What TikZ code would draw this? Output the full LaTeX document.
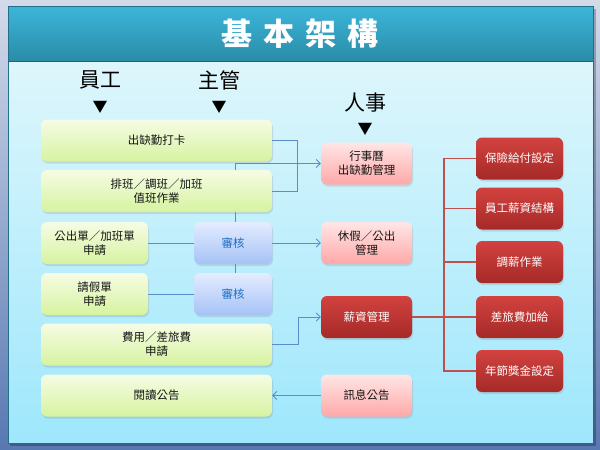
\documentclass[tikz,border=0pt]{standalone}
\usepackage{fontspec}
\setmainfont{Noto Sans CJK TC}
\usetikzlibrary{shadows,arrows.meta}
\pgfdeclarelayer{bg}
\pgfdeclarelayer{wires}
\pgfsetlayers{bg,wires,main}
\definecolor{outT}{HTML}{D3DAEA}
\definecolor{outB}{HTML}{5878B2}
\definecolor{titT}{HTML}{3CB6DA}
\definecolor{titB}{HTML}{2A8CA7}
\definecolor{panT}{HTML}{DEF6FC}
\definecolor{panB}{HTML}{9EE7FC}
\definecolor{grnT}{HTML}{F6FCE4}
\definecolor{grnB}{HTML}{D6F3A0}
\definecolor{pnkT}{HTML}{FFE6E6}
\definecolor{pnkB}{HTML}{FFA8A8}
\definecolor{bluT}{HTML}{E4ECFF}
\definecolor{bluB}{HTML}{A6C2F6}
\definecolor{redT}{HTML}{D2423F}
\definecolor{redB}{HTML}{A52A28}
\definecolor{wireC}{HTML}{5B8CCB}
\definecolor{redW}{HTML}{C0504D}
\definecolor{txtB}{HTML}{1E6FC8}
\tikzset{
  box/.style={rounded corners=6pt, minimum height=42pt, inner sep=1pt, align=center,
    font=\fontsize{11.5}{14}\selectfont, text=black!92,
    drop shadow={shadow xshift=1pt, shadow yshift=-2pt, opacity=0.22}},
  gbox/.style={box, top color=grnT, bottom color=grnB},
  bbox/.style={box, top color=bluT, bottom color=bluB, text=txtB, minimum width=78pt},
  pbox/.style={box, top color=pnkT, bottom color=pnkB, minimum width=91pt},
  rbox/.style={box, top color=redT, bottom color=redB, text=white},
  wire/.style={draw=wireC, line width=0.9pt},
  arr/.style={wire, -{Straight Barb[length=4pt,width=8pt]}},
  redwire/.style={draw=redW, line width=1.5pt},
  head/.style={font=\fontsize{21}{24}\selectfont, text=black},
  tri/.style={font=\fontsize{15}{16}\selectfont, text=black}
}
\begin{document}
\begin{tikzpicture}[x=1pt,y=-1pt]
\useasboundingbox (0,0) rectangle (600,450);
\begin{pgfonlayer}{bg}
  \shade[top color=outT, bottom color=outB] (0,0) rectangle (600,450);
  \fill[black, opacity=0.25] (10,9) rectangle (596,446);
  \shade[top color=panT, bottom color=panB] (8,61) rectangle (593,443);
  \shade[top color=titT, bottom color=titB] (8,6) rectangle (593,61);
  \draw[draw=titB!80!black, line width=0.8pt] (8,6) rectangle (593,443);
  \draw[draw=titB!70!black, line width=0.6pt] (8,61) -- (593,61);
\end{pgfonlayer}

\node[text=white, font=\fontsize{31}{33}\selectfont\bfseries] (title) at (300,34) {基\hspace{11pt}本\hspace{11pt}架\hspace{11pt}構};

\node[head] (h1) at (100,80) {員工};
\node[tri] (t1) at (100,107) {▼};
\node[head] (h2) at (219,80) {主管};
\node[tri] (t2) at (219,107) {▼};
\node[head] (h3) at (365,103) {人事};
\node[tri] (t3) at (365,129) {▼};

\node[gbox, minimum width=231pt] (g1) at (156.5,140.5) {出缺勤打卡};
\node[gbox, minimum width=231pt] (g2) at (156.5,191) {排班／調班／加班\\值班作業};
\node[gbox, minimum width=107pt] (g3) at (94.5,243) {公出單／加班單\\申請};
\node[gbox, minimum width=107pt] (g4) at (94.5,294) {請假單\\申請};
\node[gbox, minimum width=231pt] (g5) at (156.5,344.5) {費用／差旅費\\申請};
\node[gbox, minimum width=231pt] (g6) at (156.5,395.5) {閱讀公告};

\node[bbox] (b1) at (233,243) {審核};
\node[bbox] (b2) at (233,294) {審核};

\node[pbox] (p1) at (366.5,163.5) {行事曆\\出缺勤管理};
\node[pbox] (p2) at (366.5,243) {休假／公出\\管理};
\node[pbox] (p3) at (366.5,395.5) {訊息公告};
\node[rbox, minimum width=91pt] (r0) at (366.5,317) {薪資管理};

\node[rbox, minimum width=87pt] (r1) at (519.5,158.5) {保險給付設定};
\node[rbox, minimum width=87pt] (r2) at (519.5,208.5) {員工薪資結構};
\node[rbox, minimum width=87pt] (r3) at (519.5,262) {調薪作業};
\node[rbox, minimum width=87pt] (r4) at (519.5,317) {差旅費加給};
\node[rbox, minimum width=87pt] (r5) at (519.5,371) {年節獎金設定};

\coordinate (j) at (235,163.5);

\begin{pgfonlayer}{wires}
  \draw[wire] (g1.east) -- ++(25,0) |- (g2.east);
  \draw[arr] (j) -- (p1.west);
  \draw[wire] (j) -- (j |- b2.north);
  \draw[wire] (g3.east) -- (b1.west);
  \draw[wire] (g4.east) -- (b2.west);
  \draw[arr] (b1.east) -- (p2.west);
  \draw[arr] (g5.east) -- ++(26,0) |- (r0.west);
  \draw[arr] (p3.west) -- (g6.east);
  \draw[redwire] (r0.east) -- (r4.west);
  \draw[redwire] (r1.west) -- ++(-32,0) |- (r5.west);
  \draw[redwire] (r2.west) -- ++(-32,0);
  \draw[redwire] (r3.west) -- ++(-32,0);
\end{pgfonlayer}
\end{tikzpicture}
\end{document}
